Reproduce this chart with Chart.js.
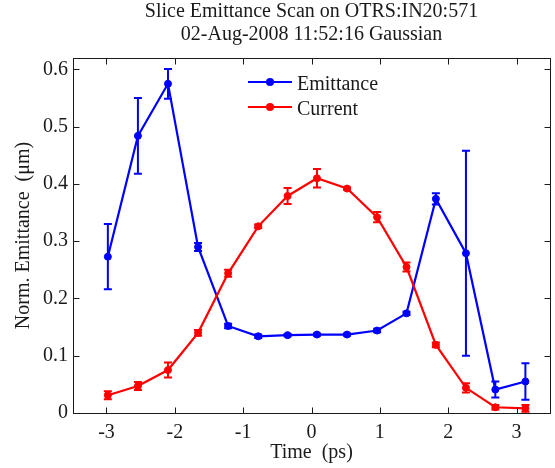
<!DOCTYPE html>
<html>
<head>
<meta charset="utf-8">
<script src="https://cdn.jsdelivr.net/npm/chart.js@4.4.1/dist/chart.umd.min.js"></script>
<style>
  html, body { margin: 0; padding: 0; background: #fff; }
  #wrap { width: 555px; height: 468px; }
</style>
</head>
<body>
<div id="wrap"><canvas id="scanChart"></canvas></div>
<script>
const times = [-2.98, -2.54, -2.10, -1.66, -1.22, -0.78, -0.35, 0.08, 0.52, 0.96, 1.39, 1.82, 2.26, 2.69, 3.13];
const emittance = [0.273, 0.484, 0.575, 0.290, 0.152, 0.134, 0.136, 0.137, 0.137, 0.144, 0.174, 0.374, 0.279, 0.041, 0.055];
const emitErr = [0.057, 0.066, 0.026, 0.007, 0.004, 0.003, 0.002, 0.002, 0.002, 0.003, 0.003, 0.010, 0.179, 0.014, 0.032];
const current = [0.031, 0.047, 0.075, 0.140, 0.244, 0.326, 0.379, 0.410, 0.392, 0.342, 0.255, 0.119, 0.044, 0.010, 0.008];
const currErr = [0.007, 0.007, 0.013, 0.005, 0.006, 0.003, 0.014, 0.016, 0.002, 0.009, 0.008, 0.004, 0.008, 0.004, 0.006];

const xTicks = [-3, -2, -1, 0, 1, 2, 3];
const xTickLabels = ["-3", "-2", "-1", "0", "1", "2", "3"];
const yTicks = [0, 0.1, 0.2, 0.3, 0.4, 0.5, 0.6];
const yTickLabels = ["0", "0.1", "0.2", "0.3", "0.4", "0.5", "0.6"];

const FONT = "'Liberation Serif', 'Times New Roman', serif";
const INK = "#1a1a1a";

function toPoints(xs, ys) {
  return xs.map((x, i) => ({ x: x, y: ys[i] }));
}

const errors = [emitErr, currErr];
const values = [emittance, current];

// title centred on the axes, error bars, matlab style box + legend
const matlabLook = {
  id: "matlabLook",
  afterLayout(chart) {
    const t = chart.titleBlock;
    const a = chart.chartArea;
    t.left = a.left;
    t.right = a.right;
    t.width = a.right - a.left;
  },
  afterDatasetDraw(chart, args) {
    const ctx = chart.ctx;
    const xs = chart.scales.x;
    const ys = chart.scales.y;
    const ds = chart.data.datasets[args.index];
    const err = errors[args.index];
    const val = values[args.index];
    ctx.save();
    ctx.strokeStyle = ds.borderColor;
    ctx.lineWidth = 2;
    times.forEach((t, i) => {
      const px = xs.getPixelForValue(t);
      const top = ys.getPixelForValue(val[i] + err[i]);
      const bot = ys.getPixelForValue(val[i] - err[i]);
      ctx.beginPath();
      ctx.moveTo(px, top);
      ctx.lineTo(px, bot);
      ctx.moveTo(px - 4, top);
      ctx.lineTo(px + 4, top);
      ctx.moveTo(px - 4, bot);
      ctx.lineTo(px + 4, bot);
      ctx.stroke();
    });
    ctx.restore();
  },
  afterDraw(chart) {
    const ctx = chart.ctx;
    const a = chart.chartArea;
    const xs = chart.scales.x;
    const ys = chart.scales.y;
    const L = Math.round(a.left) + 0.5, R = Math.round(a.right) + 0.5;
    const T = Math.round(a.top) + 0.5, B = Math.round(a.bottom) + 0.5;
    ctx.save();
    ctx.strokeStyle = INK;
    ctx.lineWidth = 1;
    ctx.strokeRect(L, T, R - L, B - T);
    ctx.beginPath();
    xTicks.forEach((v) => {
      const px = Math.round(xs.getPixelForValue(v)) + 0.5;
      ctx.moveTo(px, B); ctx.lineTo(px, B - 6);
      ctx.moveTo(px, T); ctx.lineTo(px, T + 6);
    });
    yTicks.forEach((v) => {
      const py = Math.round(ys.getPixelForValue(v)) + 0.5;
      ctx.moveTo(L, py); ctx.lineTo(L + 6, py);
      ctx.moveTo(R, py); ctx.lineTo(R - 6, py);
    });
    ctx.stroke();

    // legend
    chart.data.datasets.forEach((ds, i) => {
      const y = a.top + 24 + i * 25;
      const x0 = a.left + 175;
      ctx.strokeStyle = ds.borderColor;
      ctx.fillStyle = ds.borderColor;
      ctx.lineWidth = 2.2;
      ctx.beginPath();
      ctx.moveTo(x0, y);
      ctx.lineTo(x0 + 44, y);
      ctx.stroke();
      ctx.beginPath();
      ctx.arc(x0 + 22, y, 4, 0, Math.PI * 2);
      ctx.fill();
      ctx.fillStyle = INK;
      ctx.font = "20px " + FONT;
      ctx.textAlign = "left";
      ctx.textBaseline = "alphabetic";
      ctx.fillText(ds.label, x0 + 49, y + 8);
    });
    ctx.restore();
  },
};

const config = {
  type: "line",
  data: {
    datasets: [
      {
        label: "Emittance",
        data: toPoints(times, emittance),
        borderColor: "#0000ff",
        backgroundColor: "#0000ff",
        borderWidth: 2.2,
        pointRadius: 3.5,
        pointBorderWidth: 1,
        tension: 0,
        order: 2,
        clip: false,
      },
      {
        label: "Current",
        data: toPoints(times, current),
        borderColor: "#ff0000",
        backgroundColor: "#ff0000",
        borderWidth: 2.2,
        pointRadius: 3.5,
        pointBorderWidth: 1,
        tension: 0,
        order: 1,
        clip: false,
      },
    ],
  },
  options: {
    responsive: true,
    maintainAspectRatio: false,
    animation: false,
    layout: { padding: { left: 0, right: 3, top: 0, bottom: 0 } },
    plugins: {
      legend: { display: false },
      tooltip: { enabled: false },
      title: {
        display: true,
        text: ["Slice Emittance Scan on OTRS:IN20:571", "02-Aug-2008 11:52:16 Gaussian"],
        color: INK,
        font: { family: FONT, size: 20, weight: "normal", lineHeight: 1.15 },
        padding: { top: 0, bottom: 12 },
      },
    },
    scales: {
      x: {
        type: "linear",
        min: -3.49,
        max: 3.49,
        grid: { display: false, drawTicks: false },
        border: { display: false },
        afterBuildTicks: (scale) => {
          scale.ticks = xTicks.map((v) => ({ value: v }));
        },
        afterFit: (scale) => {
          scale.height = 55;
        },
        ticks: {
          color: INK,
          padding: 8,
          maxRotation: 0,
          font: { family: FONT, size: 20 },
          callback: (v) => xTickLabels[xTicks.indexOf(v)],
        },
        title: {
          display: true,
          text: "Time  (ps)",
          color: INK,
          font: { family: FONT, size: 20 },
          padding: { top: 0, bottom: 3 },
        },
      },
      y: {
        type: "linear",
        min: 0,
        max: 0.62,
        grid: { display: false, drawTicks: false },
        border: { display: false },
        afterBuildTicks: (scale) => {
          scale.ticks = yTicks.map((v) => ({ value: v }));
        },
        afterFit: (scale) => {
          scale.width = 73;
        },
        ticks: {
          color: INK,
          padding: 5,
          font: { family: FONT, size: 20 },
          callback: (v) => yTickLabels[yTicks.indexOf(v)],
        },
        title: {
          display: true,
          text: "Norm. Emittance  (\u03bcm)",
          color: INK,
          font: { family: FONT, size: 20 },
          padding: { top: 12, bottom: 0 },
        },
      },
    },
  },
  plugins: [matlabLook],
};

const scanChart = new Chart(document.getElementById("scanChart"), config);
</script>
</body>
</html>
